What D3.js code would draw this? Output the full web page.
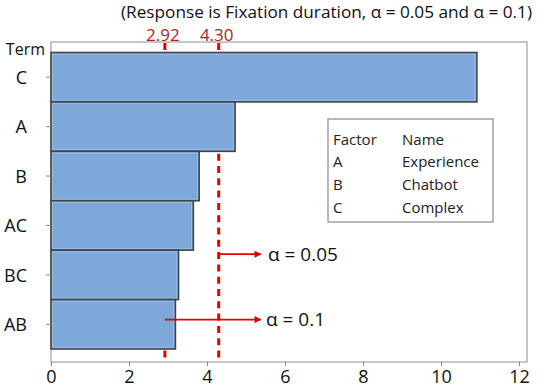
<!DOCTYPE html>
<html><head><meta charset="utf-8">
<script src="https://cdn.jsdelivr.net/npm/d3@7"></script>
<style>body{margin:0;background:#fff}svg{display:block;font-family:"Open Sans",sans-serif}</style>
</head><body><svg id="c" width="546" height="387"></svg>
<script>
const terms = ["C","A","B","AC","BC","AB"];
const effects = [10.92, 4.72, 3.80, 3.65, 3.27, 3.19];
const refValues = [2.92, 4.30];
const refLabels = ["2.92","4.30"];
const xTicks = [0,2,4,6,8,10,12];
const legendFactors = ["A","B","C"];
const legendNames = ["Experience","Chatbot","Complex"];
const alphaLabels = ["α = 0.05","α = 0.1"];
const titleText = "(Response is Fixation duration, α = 0.05 and α = 0.1)";

const svg = d3.select("#c");
const frame = {l:51, r:527, t:42, b:362};
const x = d3.scaleLinear().domain([0,12]).range([51,519]);
const y = d3.scaleBand().domain(terms).range([52.5,349]).padding(0);
const red = "#e00000", darkRed = "#b01c1c";

// frame
svg.append("rect").attr("x",frame.l).attr("y",frame.t).attr("width",frame.r-frame.l).attr("height",frame.b-frame.t)
  .attr("fill","#fff").attr("stroke","#a0a0a0").attr("stroke-width",1.2);

// reference dashed lines (behind bars)
svg.selectAll(".ref").data(refValues).join("line")
  .attr("x1",d=>x(d)).attr("x2",d=>x(d)).attr("y1",frame.t+1).attr("y2",frame.b)
  .attr("stroke",red).attr("stroke-width",3).attr("stroke-dasharray","7,5.3");

// bars
svg.selectAll(".bar").data(terms).join("rect")
  .attr("x",x(0)).attr("y",d=>y(d)).attr("width",(d,i)=>x(effects[i])-x(0)).attr("height",y.bandwidth())
  .attr("fill","#7ea8da").attr("stroke","#454545").attr("stroke-width",1.6);
svg.selectAll(".barhl").data(terms).join("rect")
  .attr("x",x(0)+1.5).attr("y",d=>y(d)+1.8).attr("width",(d,i)=>x(effects[i])-x(0)-3.3).attr("height",y.bandwidth()-3.6)
  .attr("fill","none").attr("stroke","#9cc0ea").attr("stroke-width",0.8);

// axes
const xAxis = d3.axisBottom(x).tickValues(xTicks).tickSize(4).tickPadding(4).tickFormat(d3.format("d"));
const gx = svg.append("g").attr("transform",`translate(0,${frame.b})`).call(xAxis);
gx.select(".domain").remove();
gx.selectAll("line").attr("stroke","#888");
gx.selectAll("text").attr("font-size",18).attr("fill","#111").attr("font-family","Open Sans");

const yAxis = d3.axisLeft(y).tickSize(5).tickPadding(19);
const gy = svg.append("g").attr("transform",`translate(${frame.l},0)`).call(yAxis);
gy.select(".domain").remove();
gy.selectAll("line").attr("stroke","#888");
gy.selectAll("text").attr("font-size",18).attr("fill","#111").attr("font-family","Open Sans").attr("dy","0.38em");

svg.append("text").attr("x",45).attr("y",55).attr("text-anchor","end").attr("font-size",16).attr("fill","#111").text("Term");

// title
svg.append("text").attr("x",532).attr("y",18).attr("text-anchor","end").attr("font-size",17.2).attr("fill","#111").text(titleText);

// ref labels
svg.selectAll(".reflab").data(refValues).join("text")
  .attr("x",d=>x(d)-2).attr("y",40.5).attr("text-anchor","middle").attr("font-size",17).attr("fill",darkRed)
  .text((d,i)=>refLabels[i]);

// arrows
const defs = svg.append("defs");
defs.append("marker").attr("id","ah").attr("viewBox","0 0 10 10").attr("refX",9).attr("refY",5)
  .attr("markerWidth",9).attr("markerHeight",7).attr("markerUnits","userSpaceOnUse").attr("orient","auto")
  .append("path").attr("d","M0,0L10,5L0,10Z").attr("fill",red);
const arrowY = [y("BC")+4, y("AB")+20];
const arrowStart = [refValues[1], refValues[0]];
svg.selectAll(".arr").data(alphaLabels).join("line")
  .attr("x1",(d,i)=>x(arrowStart[i])).attr("x2",x(5.38)).attr("y1",(d,i)=>arrowY[i]).attr("y2",(d,i)=>arrowY[i])
  .attr("stroke",red).attr("stroke-width",1.6).attr("marker-end","url(#ah)");
svg.selectAll(".alab").data(alphaLabels).join("text")
  .attr("x",(d,i)=>i===0?268:266).attr("y",(d,i)=>arrowY[i]+6.5).attr("font-size",19).attr("fill","#111").text(d=>d);

// legend
const lg = svg.append("g");
lg.append("rect").attr("x",328).attr("y",119).attr("width",165).attr("height",103).attr("fill","#fff").attr("stroke","#8a8a8a").attr("stroke-width",1.2);
lg.append("text").attr("x",333).attr("y",145).attr("font-size",15).attr("fill","#222").text("Factor");
lg.append("text").attr("x",402).attr("y",145).attr("font-size",15).attr("fill","#222").text("Name");
legendFactors.forEach((f,i)=>{
  lg.append("text").attr("x",333).attr("y",167+i*23).attr("font-size",15).attr("fill","#222").text(f);
  lg.append("text").attr("x",402).attr("y",167+i*23).attr("font-size",15).attr("fill","#222").text(legendNames[i]);
});
</script></body></html>
